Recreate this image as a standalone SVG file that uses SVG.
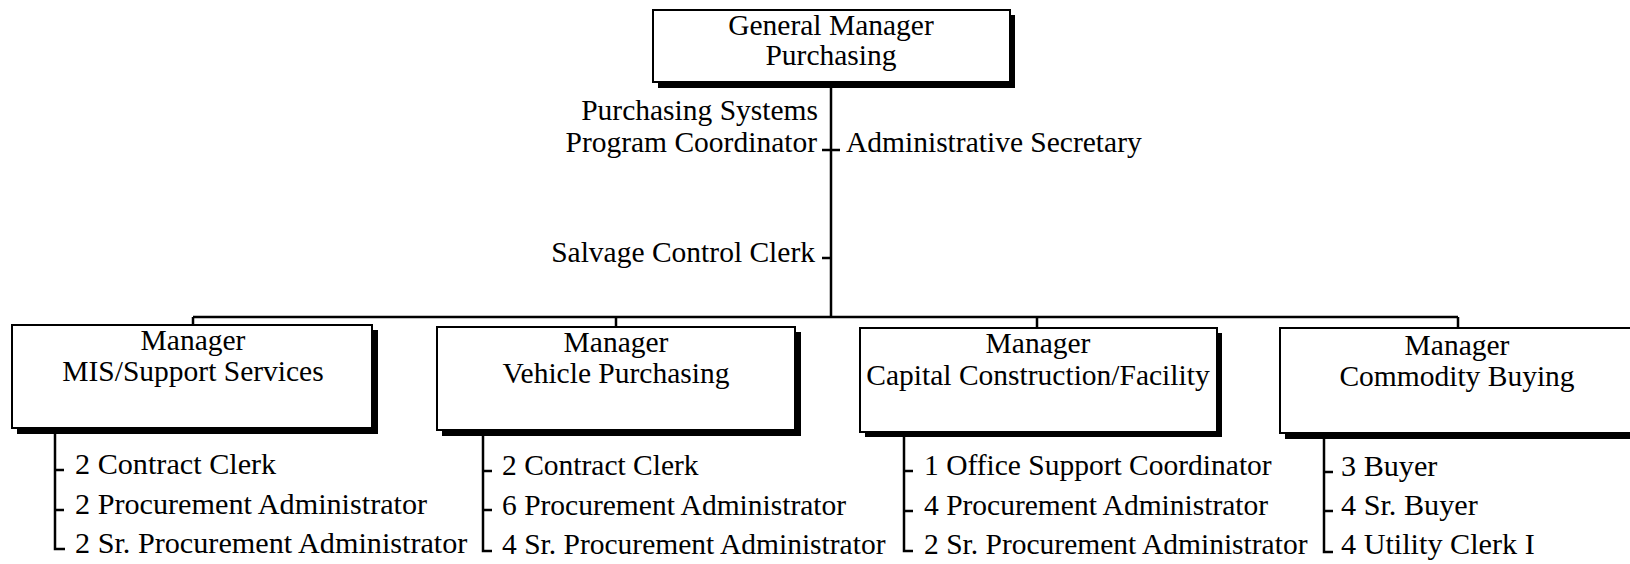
<svg xmlns="http://www.w3.org/2000/svg" width="1630" height="564" viewBox="0 0 1630 564">
<style>
text{font-family:"Liberation Serif","Times New Roman",serif;font-size:29.5px;fill:#000}
.k{font-size:30.2px}
.c{text-anchor:middle}
.r{text-anchor:end}
.box{fill:#fff;stroke:#000;stroke-width:2}
.sh{fill:#000}
.ln{stroke:#000;stroke-width:2.5;fill:none}
</style>
<rect width="1630" height="564" fill="#fff"/>
<g id="connectors">
<path class="ln" d="M831 84V317M193 317H1458M193 317V325M616 317V327M1037 317V328M1458 317V328"/>
<path class="ln" d="M822 150H840M822 258H831"/>
<path class="ln" d="M55 434V549H65M55 470H64M55 510H64"/>
<path class="ln" d="M483 436V551H492M483 471H492M483 510H492"/>
<path class="ln" d="M904 437V551H913M904 471H913M904 511H913"/>
<path class="ln" d="M1324 438V552H1333M1324 472H1333M1324 511H1333"/>
</g>
<g id="gm">
<rect class="sh" x="658" y="15" width="357" height="73"/>
<rect class="box" x="653" y="10" width="357" height="72"/>
<text class="c" x="831" y="35">General Manager</text>
<text class="c" x="831" y="65">Purchasing</text>
</g>
<g id="staff">
<text class="r" x="818" y="120">Purchasing Systems</text>
<text class="r" x="817" y="152">Program Coordinator</text>
<text x="846" y="152">Administrative Secretary</text>
<text class="r" x="815" y="262">Salvage Control Clerk</text>
</g>
<g id="mis">
<rect class="sh" x="17" y="330" width="361" height="104"/>
<rect class="box" x="12" y="325" width="360" height="103"/>
<text class="c" x="193" y="350">Manager</text>
<text class="c" x="193" y="381">MIS/Support Services</text>
<text class="k" x="75" y="474">2 Contract Clerk</text>
<text class="k" x="75" y="514">2 Procurement Administrator</text>
<text class="k" x="75" y="553">2 Sr. Procurement Administrator</text>
</g>
<g id="vehicle">
<rect class="sh" x="442" y="332" width="359" height="104"/>
<rect class="box" x="437" y="327" width="358" height="103"/>
<text class="c" x="616" y="352">Manager</text>
<text class="c" x="616" y="383">Vehicle Purchasing</text>
<text x="502" y="475">2 Contract Clerk</text>
<text x="502" y="515">6 Procurement Administrator</text>
<text x="502" y="554">4 Sr. Procurement Administrator</text>
</g>
<g id="capital">
<rect class="sh" x="865" y="333" width="357" height="104"/>
<rect class="box" x="860" y="328" width="357" height="104"/>
<text class="c" x="1038" y="353">Manager</text>
<text class="c" x="1038" y="385">Capital Construction/Facility</text>
<text x="924" y="475">1 Office Support Coordinator</text>
<text x="924" y="515">4 Procurement Administrator</text>
<text x="924" y="554">2 Sr. Procurement Administrator</text>
</g>
<g id="commodity">
<rect class="sh" x="1285" y="333" width="360" height="106"/>
<rect class="box" x="1280" y="328" width="360" height="105"/>
<text class="c" x="1457" y="355">Manager</text>
<text class="c" x="1457" y="386">Commodity Buying</text>
<text class="k" x="1341" y="476">3 Buyer</text>
<text class="k" x="1341" y="515">4 Sr. Buyer</text>
<text class="k" x="1341" y="554">4 Utility Clerk I</text>
</g>
</svg>
